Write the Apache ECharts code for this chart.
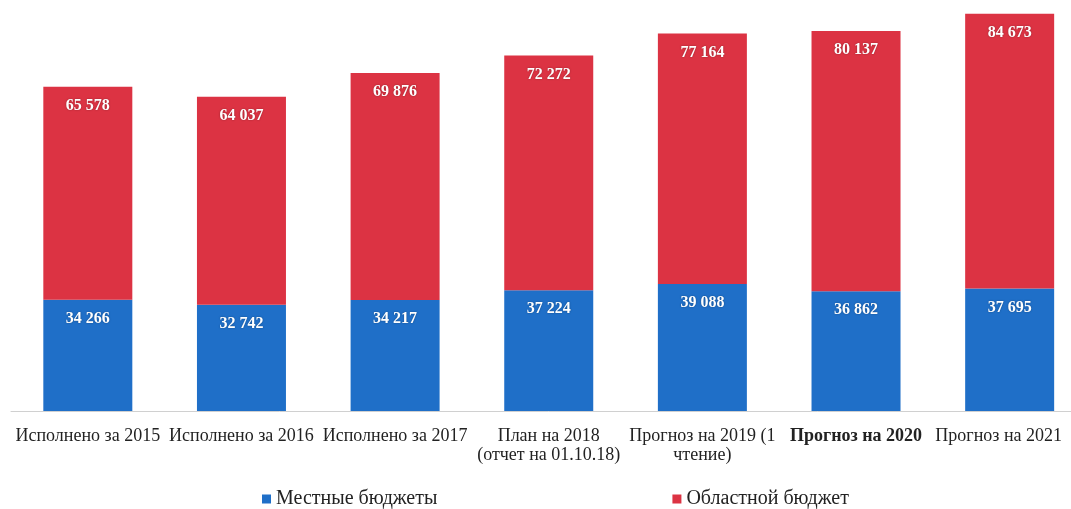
<!DOCTYPE html>
<html>
<head>
<meta charset="utf-8">
<script src="https://cdn.jsdelivr.net/npm/echarts@6/dist/echarts.min.js"></script>
<style>
html, body { margin: 0; padding: 0; background: #fff; overflow: hidden; }
#main { width: 1087px; height: 509px; }
</style>
</head>
<body>
<div id="main"></div>
<script>
// категории
const categories = [
  'Исполнено за 2015',
  'Исполнено за 2016',
  'Исполнено за 2017',
  'План на 2018\n(отчет на 01.10.18)',
  'Прогноз на 2019 (1\nчтение)',
  'Прогноз на 2020',
  'Прогноз на 2021'
]
// Местные бюджеты
const localBudgets = [34266, 32742, 34217, 37224, 39088, 36862, 37695]
// Областной бюджет
const regionalBudget = [65578, 64037, 69876, 72272, 77164, 80137, 84673]

const fmt = (v) => String(v).replace(/\B(?=(\d{3})+(?!\d))/g, ' ')

const serif = '"Liberation Serif", "DejaVu Serif", serif'

const barLabel = {
  show: true,
  position: 'insideTop',
  distance: 11,
  color: '#fff',
  fontFamily: serif,
  fontSize: 16,
  fontWeight: 'bold',
  textShadowColor: 'rgba(0,0,0,0.35)',
  textShadowBlur: 2,
  formatter: (p) => fmt(p.value)
}

// контейнер шире окна на 16px, чтобы последний столбец встал как в оригинале
const chart = echarts.init(document.getElementById('main'))
chart.setOption({
  animation: false,
  grid: { left: 11, right: 0, top: 10, bottom: 98 },
  legend: {
    left: 257,
    top: 484,
    itemWidth: 9,
    itemHeight: 9,
    itemGap: 235,
    icon: 'rect',
    textStyle: { fontFamily: serif, fontSize: 20, color: '#222' },
    data: ['Местные бюджеты', 'Областной бюджет']
  },
  xAxis: {
    type: 'category',
    data: categories,
    axisLine: { lineStyle: { color: '#d0d0d0' } },
    axisTick: { show: false },
    axisLabel: {
      interval: 0,
      margin: 16,
      color: '#222',
      fontFamily: serif,
      fontSize: 18,
      lineHeight: 19,
      formatter: (v, i) => {
        if (v === 'Прогноз на 2020') return '{b|' + v + '}'
        if (i === categories.length - 1) return '{r|' + v + '}'
        return v
      },
      rich: {
        b: { fontWeight: 'bold', fontFamily: serif, fontSize: 18, color: '#222' },
        r: { fontFamily: serif, fontSize: 18, color: '#222', padding: [0, 22, 0, 0] }
      }
    }
  },
  yAxis: {
    type: 'value',
    min: 0,
    max: 123500,
    show: false,
    splitLine: { show: false }
  },
  series: [
    {
      name: 'Местные бюджеты',
      type: 'bar',
      stack: 'total',
      barWidth: 89,
      data: localBudgets,
      itemStyle: { color: '#1f6fc8' },
      label: barLabel
    },
    {
      name: 'Областной бюджет',
      type: 'bar',
      stack: 'total',
      barWidth: 89,
      data: regionalBudget,
      itemStyle: { color: '#dc3343' },
      label: barLabel
    }
  ]
})
</script>
</body>
</html>
